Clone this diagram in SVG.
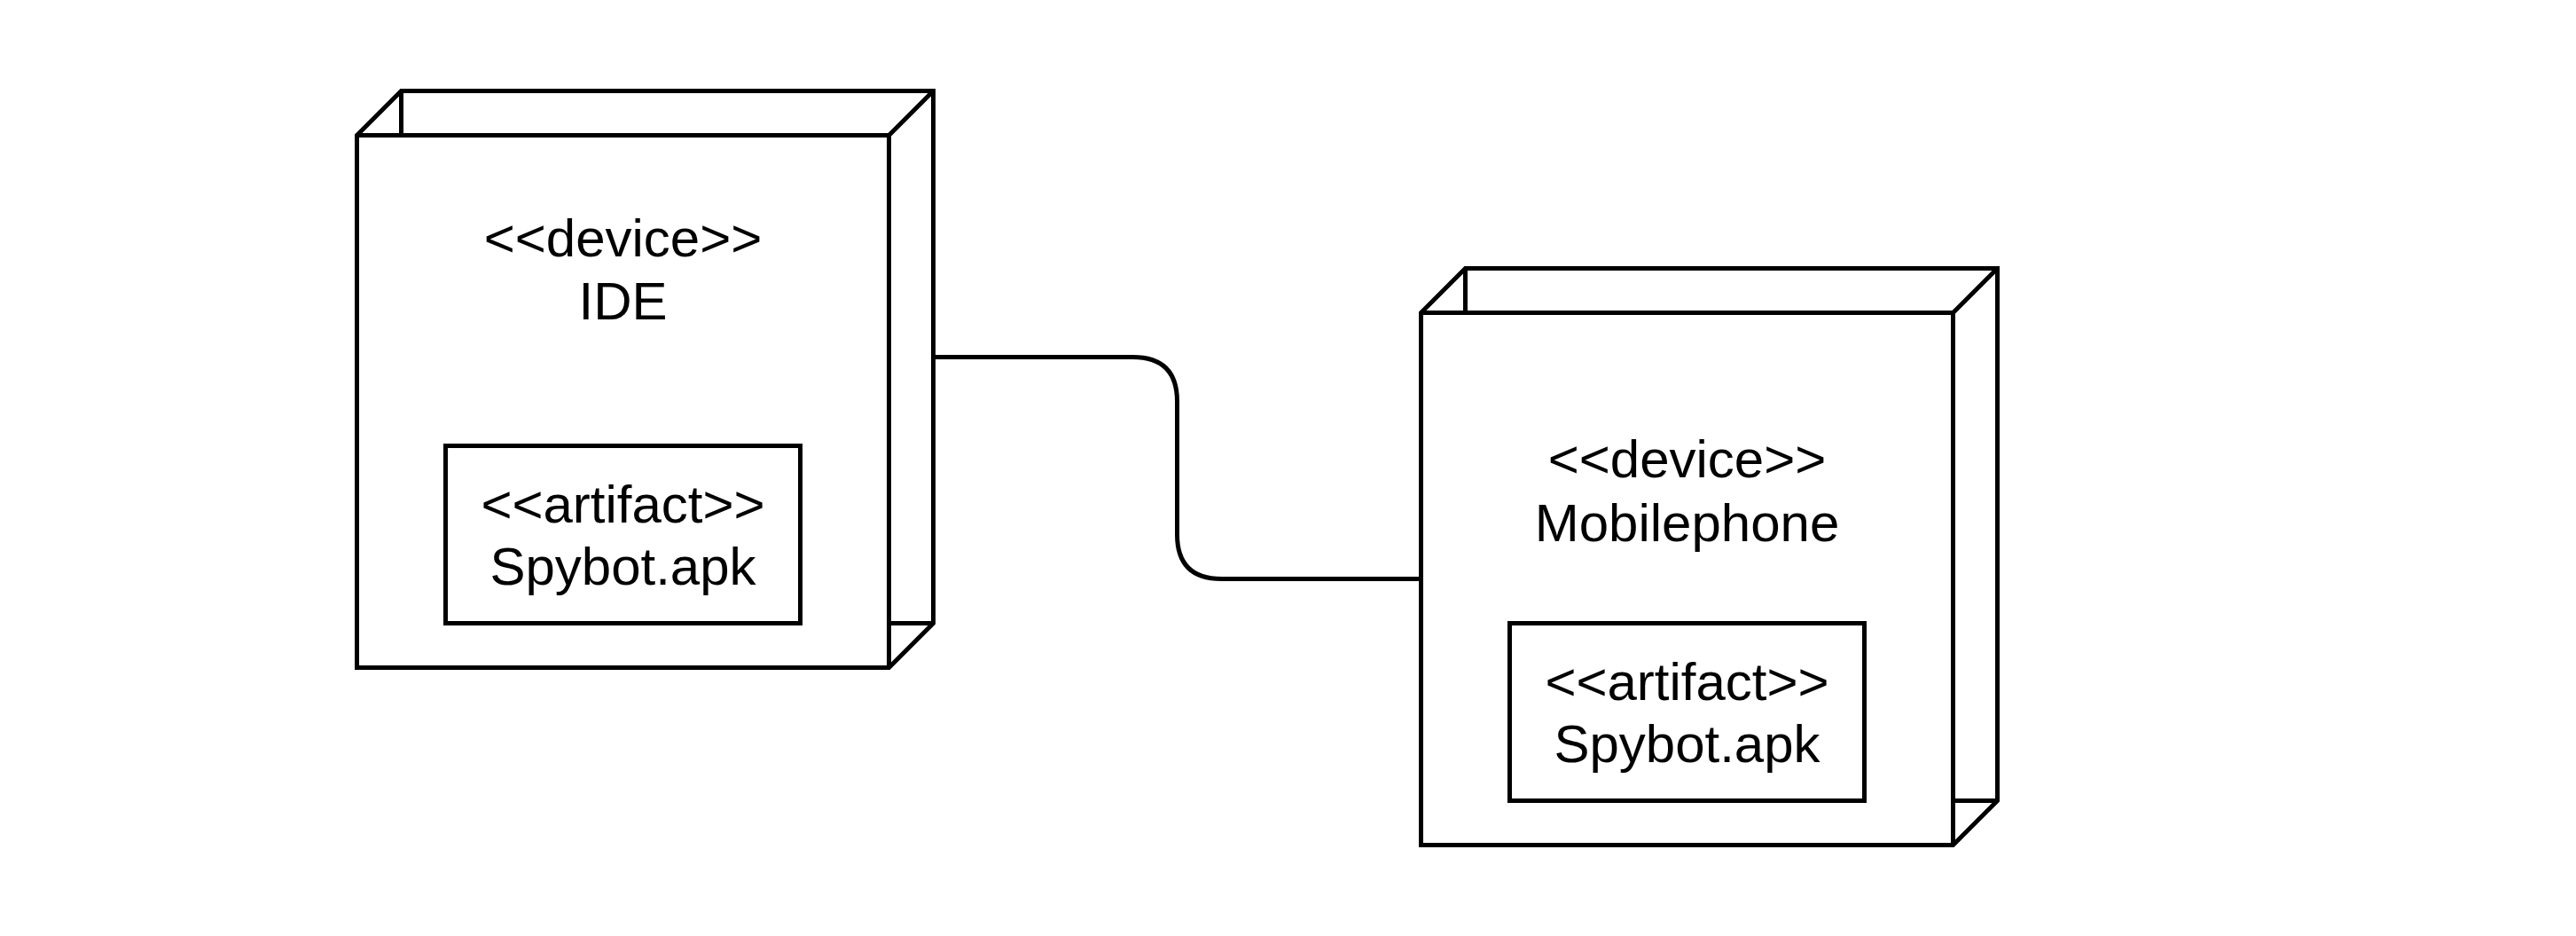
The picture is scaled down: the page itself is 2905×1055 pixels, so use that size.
<svg xmlns="http://www.w3.org/2000/svg" width="2905" height="1055" viewBox="0 0 2905 1055">
<style>
.s{fill:#ffffff;stroke:#000000;stroke-width:5;stroke-linejoin:miter}
.l{fill:none;stroke:#000000;stroke-width:5}
.t{font-family:"Liberation Sans",Arial,sans-serif;font-size:60px;fill:#000000;text-anchor:middle}
</style>
<rect width="2905" height="1055" fill="#ffffff"/>
<g id="connectors">
<path class="l" d="M1052.5,402.5 H1277.5 Q1327.5,402.5 1327.5,452.5 V602.5 Q1327.5,652.5 1377.5,652.5 H1602.5"/>
</g>
<g id="node-ide">
<path class="s" d="M402.5,152.5 L452.5,102.5 H1052.5 V702.5 L1002.5,752.5 H402.5 Z"/>
<path class="l" d="M402.5,152.5 H1002.5 V752.5 M1002.5,152.5 L1052.5,102.5 M452.5,102.5 V152.5 M1002.5,702.5 H1052.5"/>
<text class="t" x="702.5" y="288.5">&lt;&lt;device&gt;&gt;</text>
<text class="t" x="702.5" y="360">IDE</text>
</g>
<g id="artifact-ide">
<rect class="s" x="502.5" y="502.5" width="400" height="200"/>
<text class="t" x="702.5" y="589">&lt;&lt;artifact&gt;&gt;</text>
<text class="t" x="702.5" y="659">Spybot.apk</text>
</g>
<g id="node-mobilephone">
<path class="s" d="M1602.5,352.5 L1652.5,302.5 H2252.5 V902.5 L2202.5,952.5 H1602.5 Z"/>
<path class="l" d="M1602.5,352.5 H2202.5 V952.5 M2202.5,352.5 L2252.5,302.5 M1652.5,302.5 V352.5 M2202.5,902.5 H2252.5"/>
<text class="t" x="1902.5" y="538">&lt;&lt;device&gt;&gt;</text>
<text class="t" x="1902.5" y="610">Mobilephone</text>
</g>
<g id="artifact-mobilephone">
<rect class="s" x="1702.5" y="702.5" width="400" height="200"/>
<text class="t" x="1902.5" y="789">&lt;&lt;artifact&gt;&gt;</text>
<text class="t" x="1902.5" y="859">Spybot.apk</text>
</g>
</svg>
